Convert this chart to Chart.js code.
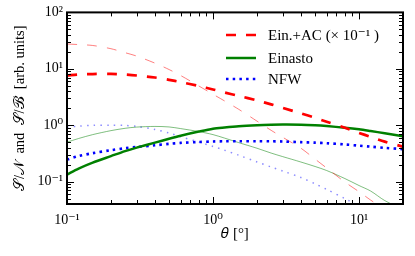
<!DOCTYPE html>
<html>
<head>
<meta charset="utf-8">
<script src="https://cdn.jsdelivr.net/npm/chart.js@4/dist/chart.umd.min.js"></script>
<style>
  html, body { margin: 0; padding: 0; background: #fff; }
  canvas { display: block; }
</style>
</head>
<body>
<canvas id="c" width="415" height="256"></canvas>
<script>
// ---- data ----
const theta = [0.1, 0.12, 0.15, 0.2, 0.25, 0.3, 0.4, 0.5, 0.6, 0.8, 1, 1.2, 1.5, 2, 2.5, 3, 4, 5, 6, 8, 10, 12, 15, 20];
// thick curves
const einacThick   = [7.6, 7.9, 8.07, 8.13, 7.9, 7.6, 7.0, 6.37, 5.82, 4.95, 4.3, 3.8, 3.3, 2.75, 2.34, 2.03, 1.62, 1.35, 1.15, 0.90, 0.73, 0.62, 0.51, 0.416];
const einastoThick = [0.133, 0.170, 0.217, 0.283, 0.347, 0.40, 0.49, 0.575, 0.65, 0.77, 0.865, 0.91, 0.957, 0.996, 1.016, 1.025, 1.02, 0.996, 0.964, 0.90, 0.843, 0.787, 0.72, 0.637];
const nfwThick     = [0.245, 0.283, 0.319, 0.36, 0.39, 0.41, 0.44, 0.466, 0.485, 0.503, 0.514, 0.518, 0.52, 0.52, 0.518, 0.514, 0.50, 0.49, 0.478, 0.455, 0.433, 0.416, 0.396, 0.376];
// thin curves
const einacThin    = [27.5, 26.9, 25.9, 22.7, 19.3, 16.8, 12.6, 9.7, 7.6, 4.95, 3.53, 2.69, 1.91, 1.18, 0.81, 0.61, 0.39, 0.25, 0.174, 0.098, 0.066, 0.047, 0.032, null];
const einastoThin  = [0.50, 0.58, 0.68, 0.80, 0.88, 0.925, 0.95, 0.93, 0.87, 0.77, 0.68, 0.59, 0.49, 0.39, 0.32, 0.277, 0.222, 0.185, 0.157, 0.113, 0.085, 0.068, 0.046, 0.032];
const nfwThin      = [0.925, 0.96, 0.995, 1.0, 0.99, 0.95, 0.84, 0.726, 0.624, 0.503, 0.42, 0.36, 0.293, 0.223, 0.181, 0.154, 0.118, 0.0914, 0.0727, 0.0499, 0.037, null, null, null];

const legendLabels = ['Ein.+AC (× 10⁻¹ )', 'Einasto', 'NFW'];
const xTickValues = [0.1, 1, 10];
const xTickLabels = ['10⁻¹', '10⁰', '10¹'];
const yTickValues = [0.1, 1, 10, 100];
const yTickLabels = ['10⁻¹', '10⁰', '10¹', '10²'];
const xTitle = '𝜃 [°]';
const yTitle = '𝒮/𝒩  and  𝒮/ℬ  [arb. units]';

const FONT = "'Liberation Serif', 'DejaVu Serif', serif";

function pts(ys) { return theta.map((t, i) => ({ x: t, y: ys[i] })); }

const RED = '#ff0000', GREEN = '#008000', BLUE = '#0000ff';

const datasets = [
  { label: legendLabels[0], data: pts(einacThick), borderColor: RED, borderWidth: 2.7, borderDash: [10, 10] },
  { label: legendLabels[1], data: pts(einastoThick), borderColor: GREEN, borderWidth: 2.5 },
  { label: legendLabels[2], data: pts(nfwThick), borderColor: BLUE, borderWidth: 2.6, borderDash: [2.5, 4.2] },
  { label: '_thin1', data: pts(einacThin), borderColor: 'rgba(255,0,0,0.5)', borderWidth: 1, borderDash: [10, 10] },
  { label: '_thin2', data: pts(einastoThin), borderColor: 'rgba(0,128,0,0.5)', borderWidth: 1 },
  { label: '_thin3', data: pts(nfwThin), borderColor: 'rgba(0,0,255,0.45)', borderWidth: 1.5, borderDash: [1.5, 5.2] },
].map(d => Object.assign({ pointRadius: 0, tension: 0.3, fill: false, spanGaps: false, borderCapStyle: 'butt' }, d));

function minorValues(lo, hi, dLo, dHi) {
  const out = [];
  for (let e = dLo; e <= dHi; e++) for (let m = 1; m <= 9; m++) {
    const v = m * Math.pow(10, e);
    if (v >= lo * 0.9999 && v <= hi * 1.0001) out.push({ v, major: m === 1 });
  }
  return out;
}

const framePlugin = {
  id: 'frame',
  afterDatasetsDraw(chart) {
    const { ctx, chartArea: a, scales } = chart;
    ctx.save();
    ctx.strokeStyle = '#000';
    ctx.lineWidth = 1;
    const xs = scales.x, ys = scales.y;
    minorValues(xs.min, xs.max, -1, 1).forEach(({ v, major }) => {
      const px = Math.round(xs.getPixelForValue(v)) + 0.5;
      const L = major ? 7 : 4;
      ctx.beginPath();
      ctx.moveTo(px, a.bottom); ctx.lineTo(px, a.bottom - L);
      ctx.moveTo(px, a.top); ctx.lineTo(px, a.top + L);
      ctx.stroke();
    });
    minorValues(ys.min, ys.max, -2, 2).forEach(({ v, major }) => {
      const py = Math.round(ys.getPixelForValue(v)) + 0.5;
      const L = major ? 7 : 4;
      ctx.beginPath();
      ctx.moveTo(a.left, py); ctx.lineTo(a.left + L, py);
      ctx.moveTo(a.right, py); ctx.lineTo(a.right - L, py);
      ctx.stroke();
    });
    ctx.lineWidth = 2;
    ctx.strokeRect(a.left, a.top, a.right - a.left, a.bottom - a.top);
    ctx.restore();
  }
};

const legendPlugin = {
  id: 'innerLegend',
  afterDatasetsDraw(chart) {
    const { ctx } = chart;
    ctx.save();
    const x0 = 226, x1 = 256, tx = 268, rows = [35, 58, 79];
    for (let i = 0; i < 3; i++) {
      const ds = chart.data.datasets[i];
      ctx.strokeStyle = ds.borderColor;
      ctx.lineWidth = ds.borderWidth;
      ctx.lineCap = 'butt';
      ctx.setLineDash(ds.borderDash || []);
      ctx.beginPath();
      ctx.moveTo(x0, rows[i]); ctx.lineTo(x1, rows[i]);
      ctx.stroke();
      ctx.setLineDash([]);
      ctx.fillStyle = '#000';
      ctx.font = "15px " + FONT;
      ctx.textBaseline = 'middle';
      ctx.textAlign = 'left';
      ctx.fillText(ds.label, tx, rows[i] + 1);
    }
    ctx.restore();
  }
};

new Chart(document.getElementById('c'), {
  type: 'line',
  data: { datasets },
  plugins: [framePlugin, legendPlugin],
  options: {
    responsive: false,
    animation: false,
    devicePixelRatio: 1,
    layout: { padding: { top: 12, right: 12, left: 0, bottom: 0 } },
    plugins: { legend: { display: false }, tooltip: { enabled: false } },
    scales: {
      x: {
        type: 'logarithmic', min: 0.1, max: 20, position: 'bottom',
        grid: { display: false, drawTicks: false }, border: { display: false },
        afterBuildTicks: s => { s.ticks = xTickValues.map(v => ({ value: v })); },
        afterFit: s => { s.height = 52; },
        ticks: {
          autoSkip: false, maxRotation: 0, padding: 8, color: '#000',
          font: { family: FONT, size: 14 },
          callback: (v, i) => xTickLabels[xTickValues.indexOf(v)] ?? ''
        },
        title: { display: true, text: xTitle, color: '#000', font: { family: FONT, size: 15 }, padding: { top: 0, bottom: 13 } }
      },
      y: {
        type: 'logarithmic', min: 0.04, max: 100, position: 'left',
        grid: { display: false, drawTicks: false }, border: { display: false },
        afterBuildTicks: s => { s.ticks = yTickValues.map(v => ({ value: v })); },
        afterFit: s => { s.width = 67; },
        ticks: {
          autoSkip: false, padding: 4, color: '#000',
          font: { family: FONT, size: 14 },
          callback: (v, i) => yTickLabels[yTickValues.indexOf(v)] ?? ''
        },
        title: { display: true, text: yTitle, color: '#000', font: { family: FONT, size: 14.5 }, padding: { top: 11, bottom: 0 } }
      }
    }
  }
});
</script>
</body>
</html>
